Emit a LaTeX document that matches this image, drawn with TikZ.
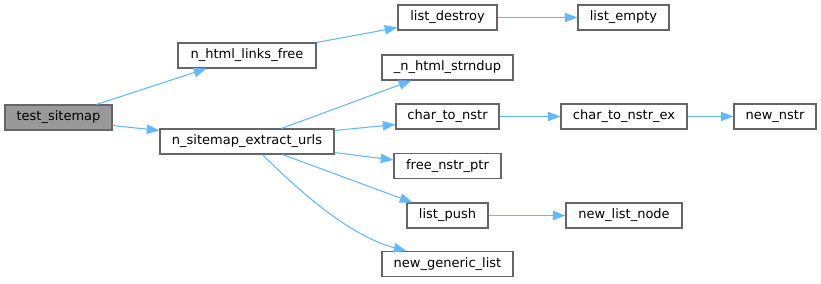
\documentclass[tikz,border=0pt]{standalone}
\usepackage{fontspec}
\setmainfont{DejaVu Sans}
\usetikzlibrary{arrows.meta,calc}
\definecolor{edgeblue}{HTML}{63B8FF}
\definecolor{boxborder}{HTML}{666666}
\definecolor{boxfill}{HTML}{999999}
\begin{document}
\begin{tikzpicture}[x=0.75pt,y=-0.75pt,
  box/.style={draw=boxborder, fill=white, line width=0.8pt, inner sep=0pt,
    minimum height=25*0.75pt, font=\fontsize{9.75}{11}\selectfont},
  rootbox/.style={box, fill=boxfill},
  call/.style={draw=edgeblue, line width=0.8pt,
    -{Triangle[length=9.5pt,width=7pt]}}]
\useasboundingbox (0,0) rectangle (821,283);
\fill[white] (0,0) rectangle (821,283);

\node[rootbox, minimum width=107*0.75pt] (ts)  at (58.5,117.5) {test\_sitemap};
\node[box, minimum width=138*0.75pt] (hlf) at (247,55.5)  {n\_html\_links\_free};
\node[box, minimum width=174*0.75pt] (seu) at (247,141.5) {n\_sitemap\_extract\_urls};
\node[box, minimum width=99*0.75pt]  (ld)  at (447.5,17.5) {list\_destroy};
\node[box, minimum width=91*0.75pt]  (le)  at (623.5,17.5) {list\_empty};
\node[box, minimum width=131*0.75pt] (hnd) at (447.5,67.5) {\_n\_html\_strndup};
\node[box, minimum width=103*0.75pt] (cn)  at (447.5,116.5) {char\_to\_nstr};
\node[box, minimum width=126*0.75pt] (cne) at (624,116.5) {char\_to\_nstr\_ex};
\node[box, minimum width=82*0.75pt]  (nn)  at (775,116.5) {new\_nstr};
\node[box, minimum width=107*0.75pt] (fnp) at (447.5,166) {free\_nstr\_ptr};
\node[box, minimum width=81*0.75pt]  (lp)  at (447.5,215.5) {list\_push};
\node[box, minimum width=116*0.75pt] (nln) at (624,215.5) {new\_list\_node};
\node[box, minimum width=131*0.75pt] (ngl) at (447.5,264) {new\_generic\_list};

\draw[call] ($(ts.north west)+(92,0)$) -- ($(hlf.south west)+(29,0)$);
\draw[call] ($(ts.south east)+(0,-5)$) -- ($(seu.north west)+(0,2)$);
\draw[call] (hlf.north east) -- ($(ld.south west)+(0,-3)$);
\draw[call] (ld) -- (le);
\draw[call] ($(seu.north west)+(122,0)$) -- ($(hnd.south west)+(30,0)$);
\draw[call] ($(seu.north east)+(0,2)$) -- ($(cn.south west)+(0,-5)$);
\draw[call] ($(seu.south east)+(0,-2)$) -- ($(fnp.north west)+(0,7)$);
\draw[call] ($(seu.south west)+(123,0)$) -- ($(lp.north west)+(6,0)$);
\draw[call] ($(seu.south west)+(103,0)$) .. controls (300,192) and (350,236) .. ($(ngl.north west)+(25,0)$);
\draw[call] (cn) -- (cne);
\draw[call] (cne) -- (nn);
\draw[call] (lp) -- (nln);
\end{tikzpicture}
\end{document}
